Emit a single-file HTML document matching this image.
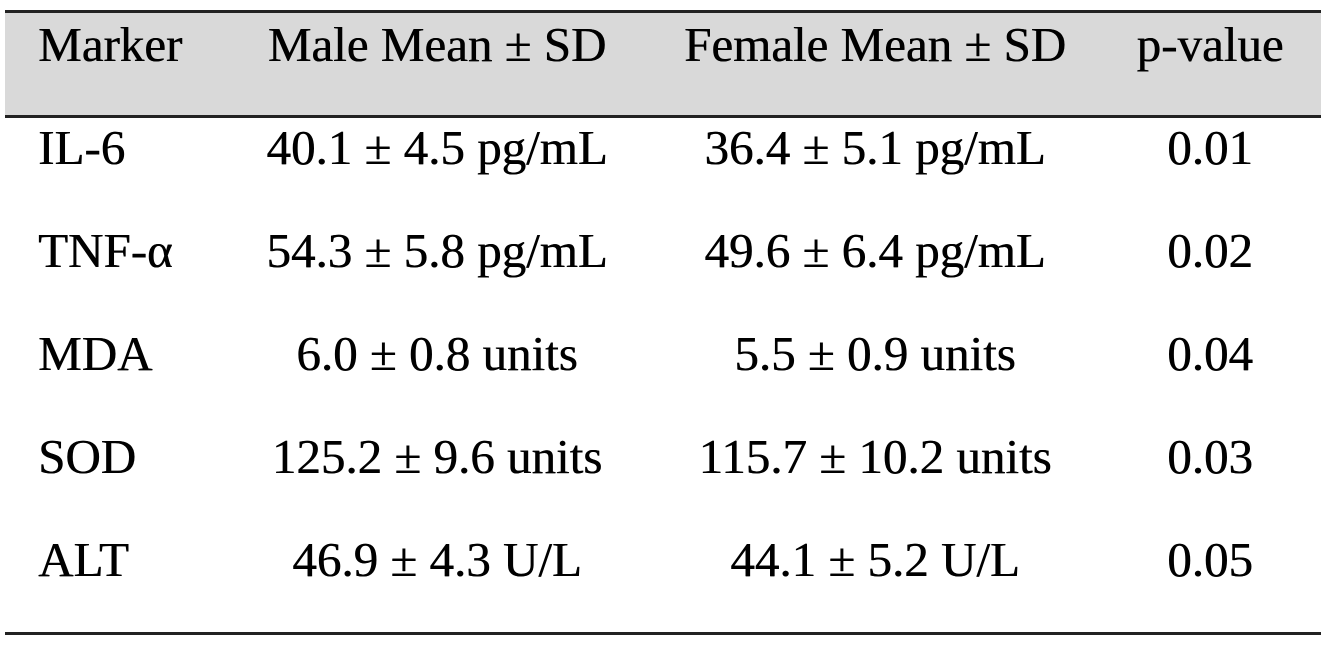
<!DOCTYPE html>
<html><head><meta charset="utf-8"><style>
body{margin:0;width:1333px;height:653px;background:#fff;position:relative;overflow:hidden;font-family:"Liberation Serif",serif;color:#000}
.t{position:absolute;font-size:49px;line-height:1;white-space:nowrap;text-shadow:0.5px 0 0 #000}
.c{transform:translateX(-50%)}
.line{position:absolute;left:5px;width:1316px;height:3px;background:#222}
</style></head><body>
<div style="position:absolute;left:5px;top:12px;width:1316px;height:104px;background:#d9d9d9"></div>
<div class="line" style="top:10px"></div>
<div class="line" style="top:115px"></div>
<div class="line" style="top:632px"></div>
<div id="tbl"></div>
<script>
const headers=["Marker","Male Mean ± SD","Female Mean ± SD","p-value"];
const markers=["IL-6","TNF-α","MDA","SOD","ALT"];
const male=["40.1 ± 4.5 pg/mL","54.3 ± 5.8 pg/mL","6.0 ± 0.8 units","125.2 ± 9.6 units","46.9 ± 4.3 U/L"];
const female=["36.4 ± 5.1 pg/mL","49.6 ± 6.4 pg/mL","5.5 ± 0.9 units","115.7 ± 10.2 units","44.1 ± 5.2 U/L"];
const pvals=["0.01","0.02","0.04","0.03","0.05"];
const tbl=document.getElementById('tbl');
const colX=[38,437,875,1210];
function cell(txt,col,top,name){
  const d=document.createElement('div');
  d.className='t'+(col>0?' c':'');
  d.style.left=colX[col]+'px';d.style.top=top+'px';
  d.textContent=txt;
  
  
  tbl.appendChild(d);
}
headers.forEach((h,i)=>cell(h,i,20,'header-cell'));
markers.forEach((m,r)=>{
  const top=123+r*103;
  cell(m,0,top,'marker-cell');
  cell(male[r],1,top,'male-value-cell');
  cell(female[r],2,top,'female-value-cell');
  cell(pvals[r],3,top,'p-value-cell');
});
</script>
</body></html>
